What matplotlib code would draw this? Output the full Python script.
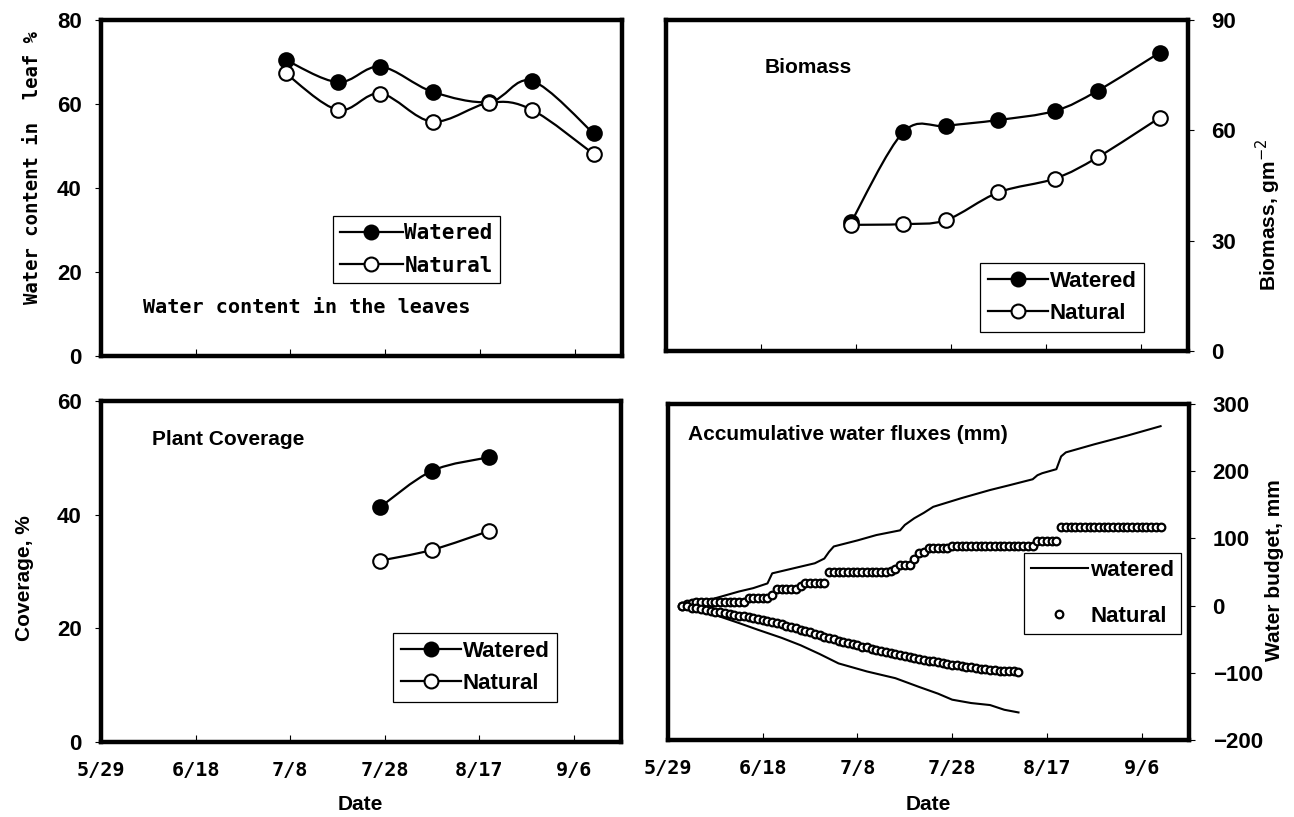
import numpy as np
import matplotlib
matplotlib.use("Agg")
import matplotlib.pyplot as plt
from matplotlib.path import Path
from matplotlib.patches import PathPatch
from matplotlib.lines import Line2D

# ---------------- data (x = days after 5/29) ----------------
tick_days = [0, 20, 40, 60, 80, 100]
tick_labels = ["5/29", "6/18", "7/8", "7/28", "8/17", "9/6"]

leaf_days = [39, 50, 59, 70, 82, 91, 104]
leaf_watered = [70.5, 65.2, 68.9, 62.9, 60.5, 65.5, 53.0]
leaf_natural = [67.3, 58.6, 62.5, 55.8, 60.3, 58.6, 48.1]

bio_days = [39, 50, 59, 70, 82, 91, 104]
bio_watered = [35.0, 59.5, 61.2, 62.8, 65.3, 70.8, 81.1]
bio_natural = [34.3, 34.5, 35.6, 43.1, 46.9, 52.7, 63.4]

cov_days = [59, 70, 82]
cov_watered = [41.3, 47.7, 50.1]
cov_natural = [31.9, 33.8, 37.1]

# accumulative water fluxes (mm)
wat_up_days = [3, 6, 10, 15, 18, 21, 22, 25, 28, 31, 33, 34, 35, 40, 44, 49, 50, 52, 54, 56,
               62, 68, 72, 77, 78, 79, 82, 83, 84, 90, 97, 104]
wat_up_vals = [0, 4, 11, 21, 26, 33, 48, 53, 58, 63, 70, 80, 88, 97, 105, 112, 120, 130, 138, 147,
               160, 172, 179, 188, 194, 197, 203, 222, 228, 240, 253, 267]
wat_low_days = [3, 5, 10, 15, 19, 24, 28, 32, 36, 42, 48, 53, 57, 60, 64, 68, 71, 74]
wat_low_vals = [0, -4, -14, -26, -36, -48, -59, -72, -86, -98, -108, -121, -131, -140, -145, -148, -155, -159]

nat_up_days = list(range(3, 105))
nat_up_vals = [0, 3, 4, 5, 5, 5, 5, 5, 5, 5, 5, 5, 5, 5, 11, 11, 11, 11, 12, 16,
               24, 24, 24, 24, 24, 29, 34, 34, 34, 34, 34, 50, 50, 50, 50, 50, 50, 50, 50, 50,
               50, 50, 50, 50, 52, 55, 60, 60, 60, 70, 78, 80, 85, 85, 85, 85, 85, 89, 89, 89,
               89, 89, 89, 89, 89, 89, 89, 89, 89, 89, 89, 89, 89, 89, 89, 96, 96, 96, 96, 96,
               117, 117, 117, 117, 117, 117, 117, 117, 117, 117, 117, 117, 117, 117, 117, 117, 117, 117, 117, 117,
               117, 117]
nat_low_days = list(range(3, 75))
nat_low_vals = [0, -1, -3, -4, -5, -6, -8, -9, -10, -11, -12, -14, -15, -16, -17, -19, -20, -21, -23, -25,
                -26, -28, -30, -32, -34, -36, -38, -40, -42, -44, -46, -48, -50, -52, -54, -56, -57, -59, -61, -62,
                -64, -66, -67, -69, -70, -72, -73, -75, -76, -78, -79, -81, -82, -83, -84, -86, -87, -88, -89, -90,
                -91, -92, -93, -94, -95, -96, -96, -97, -97, -98, -98, -99]

# ---------------- styling ----------------
SANS = "Liberation Sans"
MONO = "DejaVu Sans Mono"
NUM_FS = 16
MONO_FS = 14.5
SANS_FS = 15
LEG_FS = 16

fig = plt.figure(figsize=(12.94, 8.17), dpi=100)
W, H = 1294, 817


def add_axes(x0, y0, x1, y1):
    return fig.add_axes([x0 / W, 1 - y1 / H, (x1 - x0) / W, (y1 - y0) / H])


def smooth(ax, x, y, **kw):
    pts = np.column_stack([np.asarray(x, float), np.asarray(y, float)])
    n = len(pts)
    verts = [pts[0]]
    codes = [Path.MOVETO]
    for i in range(n - 1):
        p0 = pts[i - 1] if i > 0 else pts[i]
        p1 = pts[i]
        p2 = pts[i + 1]
        p3 = pts[i + 2] if i + 2 < n else pts[i + 1]
        verts += [p1 + (p2 - p0) / 6.0, p2 - (p3 - p1) / 6.0, p2]
        codes += [Path.CURVE4] * 3
    ax.add_patch(PathPatch(Path(verts, codes), fill=False, transform=ax.transData, **kw))


def style_axes(ax, ylim, yticks, right=False, xlabels=False):
    ax.set_xlim(0, 110)
    ax.set_ylim(*ylim)
    for s in ax.spines.values():
        s.set_linewidth(3.2)
    ax.set_xticks(tick_days)
    ax.tick_params(axis="x", direction="in", length=5, width=0.8, pad=14)
    if xlabels:
        ax.set_xticklabels(tick_labels, fontfamily=MONO, fontweight="bold", fontsize=MONO_FS)
    else:
        ax.set_xticklabels([])
    ax.set_yticks(yticks)
    ax.set_yticklabels([str(v).replace("-", "\u2212") for v in yticks],
                       fontfamily=SANS, fontweight="bold", fontsize=NUM_FS)
    if right:
        ax.yaxis.tick_right()
        ax.tick_params(axis="y", direction="out", length=4, width=0.8, pad=13,
                       left=False, right=True)
        for lab in ax.get_yticklabels():
            lab.set_horizontalalignment("left")
    else:
        ax.tick_params(axis="y", direction="out", length=4, width=0.8, pad=10)


def series_pair(ax, x, yw, yn, ms=10.5):
    smooth(ax, x, yw, lw=1.6, ec="black", zorder=2)
    smooth(ax, x, yn, lw=1.6, ec="black", zorder=2)
    ax.plot(x, yw, ls="none", marker="o", ms=ms, mfc="black", mec="black", mew=1.5, zorder=3)
    ax.plot(x, yn, ls="none", marker="o", ms=ms, mfc="white", mec="black", mew=1.5, zorder=4)


def pair_legend(ax, anchor, font, fs, spacing, hlen, bpad):
    h1 = Line2D([], [], color="black", lw=1.6, marker="o", ms=10, mfc="black", mec="black", mew=1.5)
    h2 = Line2D([], [], color="black", lw=1.6, marker="o", ms=10, mfc="white", mec="black", mew=1.5)
    leg = ax.legend([h1, h2], ["Watered", "Natural"], loc="upper left", bbox_to_anchor=anchor,
                    frameon=True, fancybox=False, edgecolor="black", framealpha=1,
                    prop={"family": font, "weight": "bold", "size": fs},
                    handlelength=hlen, handletextpad=0.08, borderpad=bpad,
                    labelspacing=spacing, borderaxespad=0)
    leg.get_frame().set_linewidth(0.9)
    return leg


# ---------------- top-left: leaf water content ----------------
ax1 = add_axes(101, 20, 622, 356)
style_axes(ax1, (0, 80), [0, 20, 40, 60, 80])
series_pair(ax1, leaf_days, leaf_watered, leaf_natural)
pair_legend(ax1, (0.445, 0.417), MONO, 15, spacing=0.6, hlen=3.0, bpad=0.35)
ax1.text(0.081, 0.143, "Water content in the leaves", transform=ax1.transAxes,
         fontfamily=MONO, fontweight="bold", fontsize=MONO_FS, va="center", ha="left")
fig.text(33 / W, 1 - 168 / H, "Water content in  leaf %", rotation=90, ha="center", va="center",
         fontfamily=MONO, fontweight="bold", fontsize=13.6)

# ---------------- top-right: biomass ----------------
ax2 = add_axes(666, 20, 1188, 351)
style_axes(ax2, (0, 90), [0, 30, 60, 90], right=True)
series_pair(ax2, bio_days, bio_watered, bio_natural)
pair_legend(ax2, (0.602, 0.266), SANS, LEG_FS, spacing=0.5, hlen=2.7, bpad=0.35)
ax2.text(0.188, 0.855, "Biomass", transform=ax2.transAxes,
         fontfamily=SANS, fontweight="bold", fontsize=SANS_FS, va="center", ha="left")
fig.text(1268 / W, 1 - 215 / H, "Biomass, gm$^{-2}$", rotation=90, ha="center", va="center",
         fontfamily=SANS, fontweight="bold", fontsize=SANS_FS)

# ---------------- bottom-left: coverage ----------------
ax3 = add_axes(101, 401, 621, 742)
style_axes(ax3, (0, 60), [0, 20, 40, 60], xlabels=True)
series_pair(ax3, cov_days, cov_watered, cov_natural)
pair_legend(ax3, (0.562, 0.320), SANS, LEG_FS, spacing=0.5, hlen=2.7, bpad=0.35)
ax3.text(0.098, 0.886, "Plant Coverage", transform=ax3.transAxes,
         fontfamily=SANS, fontweight="bold", fontsize=SANS_FS, va="center", ha="left")
fig.text(25 / W, 1 - 578 / H, "Coverage, %", rotation=90, ha="center", va="center",
         fontfamily=SANS, fontweight="bold", fontsize=SANS_FS)
fig.text(360 / W, 1 - 805 / H, "Date", ha="center", va="center",
         fontfamily=SANS, fontweight="bold", fontsize=SANS_FS)

# ---------------- bottom-right: water fluxes ----------------
ax4 = add_axes(668, 404, 1189, 740)
style_axes(ax4, (-200, 300), [-200, -100, 0, 100, 200, 300], right=True, xlabels=True)
ax4.plot(wat_up_days, wat_up_vals, color="black", lw=1.5, zorder=2)
ax4.plot(wat_low_days, wat_low_vals, color="black", lw=1.5, zorder=2)
ax4.plot(nat_up_days, nat_up_vals, ls="none", marker="o", ms=5.5, mfc="white", mec="black", mew=1.6, zorder=3)
ax4.plot(nat_low_days, nat_low_vals, ls="none", marker="o", ms=5.5, mfc="white", mec="black", mew=1.6, zorder=3)
hw = Line2D([], [], color="black", lw=1.5)
hn = Line2D([], [], ls="none", marker="o", ms=5.5, mfc="white", mec="black", mew=1.6)
leg4 = ax4.legend([hw, hn], ["watered", "Natural"], loc="upper left", bbox_to_anchor=(0.683, 0.557),
                  frameon=True, fancybox=False, edgecolor="black", framealpha=1,
                  prop={"family": SANS, "weight": "bold", "size": LEG_FS},
                  handlelength=2.6, handletextpad=0.1, borderpad=0.3, labelspacing=1.15,
                  borderaxespad=0)
leg4.get_frame().set_linewidth(0.9)
ax4.text(0.038, 0.908, "Accumulative water fluxes (mm)", transform=ax4.transAxes,
         fontfamily=SANS, fontweight="bold", fontsize=SANS_FS, va="center", ha="left")
fig.text(1275 / W, 1 - 570 / H, "Water budget, mm", rotation=90, ha="center", va="center",
         fontfamily=SANS, fontweight="bold", fontsize=SANS_FS)
fig.text(928 / W, 1 - 805 / H, "Date", ha="center", va="center",
         fontfamily=SANS, fontweight="bold", fontsize=SANS_FS)

fig.savefig("out.png", dpi=100)
